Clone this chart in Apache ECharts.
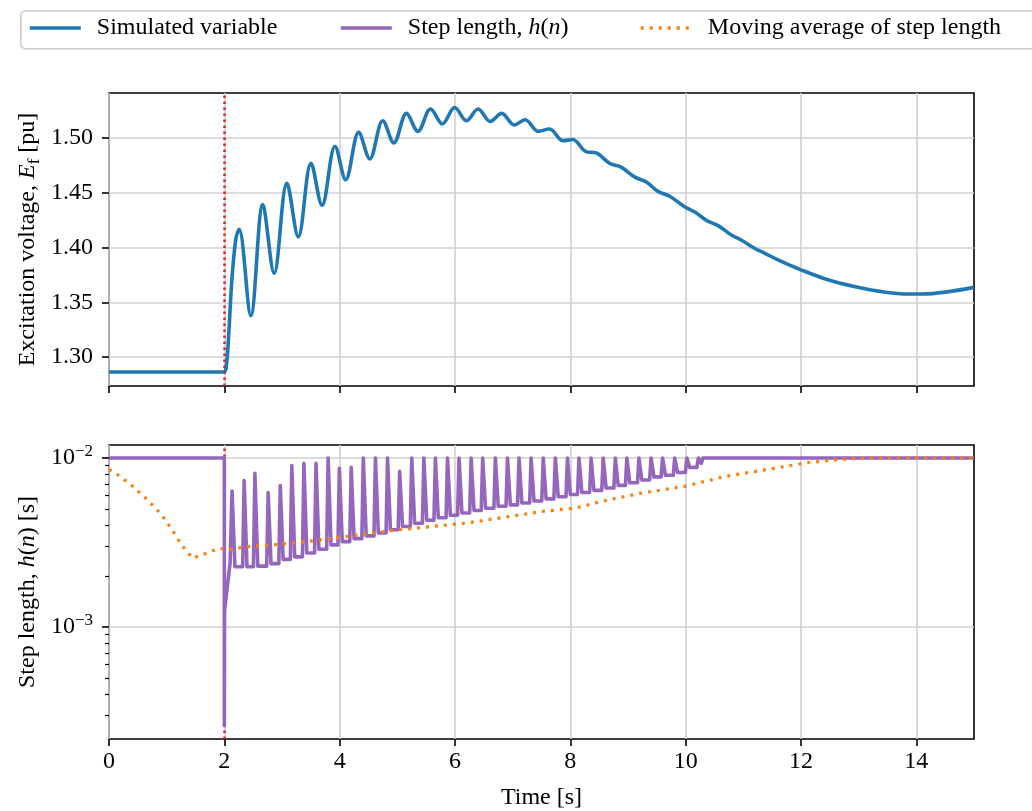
<!DOCTYPE html>
<html>
<head>
<meta charset="utf-8">
<title>Excitation voltage and step length</title>
<script src="https://cdn.jsdelivr.net/npm/echarts@6.0.0/dist/echarts.min.js"></script>
<style>
  html, body { margin: 0; padding: 0; background: #ffffff; }
  #chart { width: 1032px; height: 811px; }
</style>
</head>
<body>
<div id="chart"></div>
<script>
// ---- Time axis ticks [s] ----
const timeTicks = [0, 2, 4, 6, 8, 10, 12, 14];

// ---- Excitation voltage E_f [pu] ----
const efTicks = [1.30, 1.35, 1.40, 1.45, 1.50];
const efTime = [
  0, 1.99, 2.03, 2.07, 2.13, 2.20, 2.256, 2.459, 2.667, 2.864, 3.085, 3.282,
  3.503, 3.694, 3.920, 4.104, 4.331, 4.522, 4.748, 4.939, 5.160, 5.357, 5.577,
  5.781, 5.995, 6.198, 6.40, 6.61, 6.81, 7.026, 7.217, 7.443, 7.64, 7.87, 8.04,
  8.27, 8.45, 8.68, 8.88, 9.12, 9.32, 9.52, 9.73, 9.99, 10.16, 10.36, 10.57,
  10.80, 10.97, 11.20, 11.38, 11.61, 12.01, 12.48, 12.94, 13.40, 13.87, 14.10,
  14.56, 15.0
];
const efValue = [
  1.2864, 1.2864, 1.2900, 1.3150, 1.3700, 1.4080, 1.4166, 1.3378, 1.4391,
  1.3764, 1.4587, 1.4097, 1.4769, 1.4385, 1.4924, 1.4618, 1.5051, 1.4809, 1.5157,
  1.4955, 1.5224, 1.5060, 1.5264, 1.5127, 1.5278, 1.5157, 1.5264, 1.5151, 1.5224,
  1.5118, 1.5166, 1.5060, 1.5082, 1.4975, 1.4985, 1.4875, 1.4863, 1.4769, 1.4733,
  1.4642, 1.4597, 1.4512, 1.4466, 1.4369, 1.4324, 1.4248, 1.4197, 1.4112, 1.4066,
  1.3991, 1.3945, 1.3885, 1.3794, 1.3703, 1.3642, 1.3597, 1.3575, 1.3575, 1.3597,
  1.3636
];

// ---- Step length h(n) [s] ----
const stepMajorTicks = [0.001, 0.01];
const stepMinorTicks = [
  0.0003, 0.0004, 0.0005, 0.0006, 0.0007, 0.0008, 0.0009,
  0.002, 0.003, 0.004, 0.005, 0.006, 0.007, 0.008, 0.009
];
// before and right after the disturbance at t = 2 s
const stepLeadTime  = [0, 2.0, 2.0, 2.004, 2.10];
const stepLeadValue = [0.01, 0.01, 0.00026, 0.00125, 0.0024];
// step-size spikes during the oscillation
const spikeTime = [
  2.134, 2.343, 2.530, 2.760, 2.970, 3.170, 3.380, 3.590, 3.800, 3.995,
  4.200, 4.410, 4.620, 4.830, 5.040, 5.250, 5.460, 5.660, 5.870, 6.070,
  6.280, 6.480, 6.700, 6.910, 7.110, 7.320, 7.530, 7.740, 7.950, 8.150,
  8.360, 8.570, 8.780, 8.980, 9.190, 9.400, 9.600, 9.810, 10.02, 10.22
];
const spikePeak = [
  0.00638, 0.00735, 0.00811, 0.00624, 0.00686, 0.00902, 0.00929, 0.00929, 0.0100, 0.00869,
  0.00881, 0.0100, 0.0100, 0.0100, 0.00834, 0.0100, 0.0100, 0.0100, 0.0100, 0.0100,
  0.0100, 0.0100, 0.0100, 0.0100, 0.0100, 0.0100, 0.0100, 0.0100, 0.0100, 0.0100,
  0.0100, 0.0100, 0.0100, 0.0100, 0.0100, 0.0100, 0.0100, 0.0100, 0.0100, 0.0100
];
const spikeTrough = [
  0.00227, 0.00227, 0.00229, 0.00237, 0.00251, 0.00260, 0.00274, 0.00288, 0.00306, 0.00320,
  0.00333, 0.00346, 0.00360, 0.00376, 0.00393, 0.00411, 0.00428, 0.00443, 0.00458, 0.00473,
  0.00489, 0.00504, 0.00518, 0.00528, 0.00542, 0.00557, 0.00573, 0.00590, 0.00608, 0.00625,
  0.00643, 0.00664, 0.00689, 0.00713, 0.00741, 0.00773, 0.00790, 0.00820, 0.00880, 0.00930
];
const stepTailTime  = [10.30, 15.0];
const stepTailValue = [0.01, 0.01];

// ---- Moving average of step length [s] ----
const avgTime = [
  0, 0.16, 0.42, 0.67, 0.89, 1.09, 1.26, 1.45, 1.61, 1.91, 2.07, 2.4, 2.8, 3.2,
  3.6, 4.0, 5.0, 6.2, 7.5, 8.07, 8.65, 9.22, 10.0, 10.67, 11.53, 12.12, 12.7, 13.1, 15.0
];
const avgValue = [
  0.00857, 0.00793, 0.00676, 0.00564, 0.00471, 0.00378, 0.00305, 0.00255, 0.00267,
  0.00292, 0.00286, 0.00299, 0.00305, 0.00314, 0.00325, 0.00339, 0.00375, 0.00412,
  0.00482, 0.00504, 0.00564, 0.00618, 0.00682, 0.00776, 0.00869, 0.00938, 0.00982,
  0.0100, 0.0100
];

const eventTime = 2;
const stepRange = [0.000217, 0.01194];

// ---- styling ----
const FONT = '"Liberation Serif", "Times New Roman", serif';
const FS = 24;
const LW = 3.6;
const GRID_COLOR = '#d0d0d0';
const BLUE = '#1f77b4', PURPLE = '#9467bd', ORANGE = '#ff7f0e', RED = '#d62728';
const NAME_EF = 'Simulated variable';
const NAME_H = 'Step length, h(n)';
const NAME_AVG = 'Moving average of step length';

const lg = v => Math.log10(v);

const efData = efTime.map((t, i) => [t, efValue[i]]);

const stepData = [];
stepLeadTime.forEach((t, i) => stepData.push([t, lg(stepLeadValue[i])]));
let prevTrough = stepLeadValue[stepLeadValue.length - 1];
spikeTime.forEach((t, i) => {
  stepData.push([t - 0.025, lg(prevTrough)]);
  stepData.push([t, lg(spikePeak[i])]);
  stepData.push([t + 0.05, lg(spikeTrough[i])]);
  prevTrough = spikeTrough[i];
});
stepTailTime.forEach((t, i) => stepData.push([t, lg(stepTailValue[i])]));

const avgData = avgTime.map((t, i) => [t, lg(avgValue[i])]);

// ---- legend: one entry per column, sharing a single frame ----
const legendLeft = [28, 339, 639];
const legendNames = [NAME_EF, NAME_H, NAME_AVG];
const legends = legendNames.map((nm, k) => ({
  left: legendLeft[k], top: 16,
  orient: 'horizontal', padding: 0,
  itemWidth: 51, itemHeight: 14,
  selectedMode: false,
  itemStyle: { opacity: 0 },
  lineStyle: { width: LW },
  textStyle: {
    color: '#000', fontFamily: FONT, fontSize: FS, padding: [0, 0, 0, 11],
    rich: { i: { fontStyle: 'italic', fontFamily: FONT, fontSize: FS, color: '#000' } }
  },
  formatter: name => name === NAME_H ? 'Step length, {i|h}({i|n})' : name,
  data: [nm],
  z: 5
}));

const eventLine = {
  silent: true,
  symbol: ['none', 'none'],
  label: { show: false },
  lineStyle: { color: RED, width: 2.5, type: [2.5, 3.5], cap: 'butt' },
  emphasis: { disabled: true },
  animation: false,
  data: [{ xAxis: eventTime }]
};

const tickStyle = { show: true, inside: false, length: 7, lineStyle: { color: '#000', width: 1.6 } };
const splitStyle = { show: true, lineStyle: { color: GRID_COLOR, width: 1.6 } };
const labelBase = { color: '#000', fontFamily: FONT, fontSize: FS };

function timeAxis(gridIndex, withLabels) {
  return {
    type: 'value', gridIndex, min: 0, max: 15, position: 'bottom',
    axisLine: { show: false },
    axisTick: Object.assign({ customValues: timeTicks }, tickStyle),
    splitLine: splitStyle,
    axisLabel: Object.assign({ show: withLabels, customValues: timeTicks, margin: 11 }, labelBase),
    name: withLabels ? 'Time [s]' : '',
    nameLocation: 'middle',
    nameGap: 47,
    nameMoveOverlap: false,
    nameTextStyle: labelBase
  };
}

const chart = echarts.init(document.getElementById('chart'), null, { renderer: 'canvas' });

chart.setOption({
  animation: false,
  backgroundColor: '#ffffff',
  textStyle: { fontFamily: FONT },
  graphic: [{
    // legend frame
    type: 'rect', left: 20, top: 10, z: 1, silent: true,
    shape: { width: 1030, height: 38, r: 5 },
    style: { fill: '#ffffff', stroke: '#cccccc', lineWidth: 1.6 }
  }],
  legend: legends,
  grid: [
    { left: 109, top: 93, width: 865, height: 293, show: true, borderColor: '#000', borderWidth: 1.6,
      backgroundColor: 'transparent', outerBoundsMode: 'none', containLabel: false },
    { left: 109, top: 445, width: 865, height: 294, show: true, borderColor: '#000', borderWidth: 1.6,
      backgroundColor: 'transparent', outerBoundsMode: 'none', containLabel: false }
  ],
  xAxis: [timeAxis(0, false), timeAxis(1, true)],
  yAxis: [
    {
      type: 'value', gridIndex: 0, min: 1.2736, max: 1.541, position: 'left',
      axisLine: { show: false },
      axisTick: Object.assign({ customValues: efTicks }, tickStyle),
      splitLine: splitStyle,
      axisLabel: Object.assign({ customValues: efTicks, margin: 16, formatter: v => v.toFixed(2) }, labelBase),
      name: 'Excitation voltage, {i|E}{s|f} [pu]',
      nameLocation: 'middle', nameRotate: 90, nameGap: 66, nameMoveOverlap: false,
      nameTextStyle: Object.assign({
        lineHeight: 30,
        rich: {
          i: { fontStyle: 'italic', fontFamily: FONT, fontSize: FS, lineHeight: 30 },
          s: { fontFamily: FONT, fontSize: 17, lineHeight: 18, verticalAlign: 'bottom' }
        }
      }, labelBase)
    },
    {
      type: 'value', gridIndex: 1, min: lg(stepRange[0]), max: lg(stepRange[1]), position: 'left',
      axisLine: { show: false },
      axisTick: Object.assign({ customValues: stepMajorTicks.map(lg) }, tickStyle),
      splitLine: splitStyle,
      axisLabel: Object.assign({
        customValues: stepMajorTicks.map(lg), margin: 16,
        formatter: v => { const e = Math.round(v); return '{b|10}{sup|' + (e < 0 ? '\u2212' : '') + Math.abs(e) + '}'; },
        rich: {
          b: { fontFamily: FONT, fontSize: FS, lineHeight: 30, color: '#000' },
          sup: { fontFamily: FONT, fontSize: 17, lineHeight: 17, verticalAlign: 'top', color: '#000' }
        }
      }, labelBase),
      name: 'Step length, {i|h}({i|n}) [s]',
      nameLocation: 'middle', nameRotate: 90, nameGap: 66, nameMoveOverlap: false,
      nameTextStyle: Object.assign({
        lineHeight: 30,
        rich: { i: { fontStyle: 'italic', fontFamily: FONT, fontSize: FS, lineHeight: 30 } }
      }, labelBase)
    },
    {
      // minor ticks of the logarithmic step-length axis
      type: 'value', gridIndex: 1, min: lg(stepRange[0]), max: lg(stepRange[1]),
      position: 'left', offset: 0,
      axisLine: { show: false },
      axisTick: { show: true, inside: false, length: 4, customValues: stepMinorTicks.map(lg),
                  lineStyle: { color: '#000', width: 1.2 } },
      splitLine: { show: false },
      axisLabel: { show: false }
    }
  ],
  series: [
    {
      name: NAME_EF, type: 'line', xAxisIndex: 0, yAxisIndex: 0,
      data: efData, smooth: 0.35, symbol: 'none', showSymbol: false, clip: true,
      color: BLUE, lineStyle: { color: BLUE, width: LW },
      emphasis: { disabled: true }, z: 3,
      markLine: eventLine
    },
    {
      name: NAME_H, type: 'line', xAxisIndex: 1, yAxisIndex: 1,
      data: stepData, symbol: 'none', showSymbol: false, clip: true,
      color: PURPLE, lineStyle: { color: PURPLE, width: LW, join: 'round' },
      emphasis: { disabled: true }, z: 3,
      markLine: Object.assign({}, eventLine, { z: 2 })
    },
    {
      name: NAME_AVG, type: 'line', xAxisIndex: 1, yAxisIndex: 1,
      data: avgData, symbol: 'none', showSymbol: false, clip: true,
      color: ORANGE, lineStyle: { color: ORANGE, width: 3.2, type: [3, 6], cap: 'butt' },
      emphasis: { disabled: true }, z: 4
    }
  ]
});
</script>
</body>
</html>
